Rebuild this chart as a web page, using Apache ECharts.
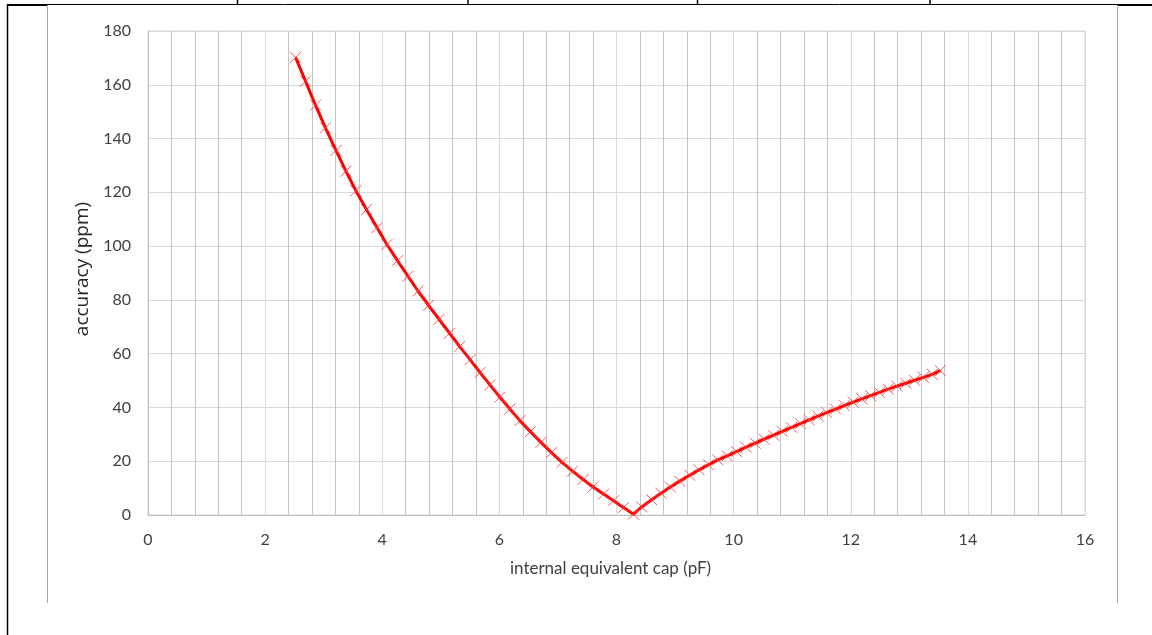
<!DOCTYPE html>
<html>
<head>
<meta charset="utf-8">
<script src="https://cdn.jsdelivr.net/npm/echarts@6/dist/echarts.min.js"></script>
<style>
html,body{margin:0;padding:0;background:#fff;}
#chart{width:1152px;height:635px;}
</style>
</head>
<body>
<div id="chart"></div>
<script>
// Data
const capLeft = [2.52, 2.69, 2.86, 3.03, 3.21, 3.38, 3.55, 3.73, 3.91, 4.08, 4.26, 4.44, 4.61, 4.79, 4.97, 5.15, 5.32, 5.50, 5.67, 5.84, 6.01, 6.18, 6.35, 6.53, 6.71, 6.89, 7.07, 7.25, 7.43, 7.60, 7.78, 7.95, 8.12, 8.29];
const accLeft = [170.2, 161.3, 152.4, 144.0, 135.6, 127.9, 120.6, 113.6, 106.9, 100.6, 94.6, 88.8, 83.3, 78.0, 72.8, 67.6, 62.7, 57.8, 53.0, 48.4, 43.8, 39.4, 35.1, 31.0, 27.0, 23.2, 19.6, 16.3, 13.2, 10.4, 7.8, 5.3, 2.8, 0.3];
const capRight = [8.43, 8.60, 8.76, 8.92, 9.08, 9.25, 9.41, 9.57, 9.73, 9.89, 10.05, 10.21, 10.37, 10.52, 10.68, 10.83, 10.99, 11.14, 11.29, 11.44, 11.59, 11.74, 11.89, 12.04, 12.19, 12.34, 12.49, 12.64, 12.79, 12.94, 13.09, 13.24, 13.39, 13.53];
const accRight = [3.0, 5.7, 8.1, 10.4, 12.6, 14.8, 16.8, 18.7, 20.5, 22.0, 23.6, 25.2, 26.7, 28.2, 29.7, 31.1, 32.6, 34.0, 35.4, 36.8, 38.1, 39.4, 40.7, 42.0, 43.2, 44.4, 45.6, 46.8, 47.9, 49.0, 50.1, 51.2, 52.3, 53.7];
const xName = 'internal equivalent cap (pF)';
const yName = 'accuracy (ppm)';

const caps = capLeft.concat(capRight);
const accs = accLeft.concat(accRight);
const points = caps.map((c, i) => [c, accs[i]]);

const FONT = 'Lato, "Open Sans", sans-serif';
const chart = echarts.init(document.getElementById('chart'), null, {renderer: 'canvas'});
chart.setOption({
  animation: false,
  backgroundColor: '#ffffff',
  grid: {left: 148, right: 67, top: 31, bottom: 120, show: true, borderColor: '#d9d9d9', borderWidth: 1},
  xAxis: {
    type: 'value', min: 0, max: 16, interval: 2,
    name: xName, nameLocation: 'middle', nameGap: 45,
    nameTextStyle: {fontFamily: FONT, fontSize: 17, color: '#404040', padding: [0, 12, 0, 0]},
    axisLine: {show: true, lineStyle: {color: '#bfbfbf', width: 1}},
    axisTick: {show: false},
    axisLabel: {fontFamily: FONT, fontSize: 16, color: '#404040', margin: 17},
    splitLine: {show: true, lineStyle: {color: '#d9d9d9', width: 1}},
    minorTick: {show: false, splitNumber: 5},
    minorSplitLine: {show: true, lineStyle: {color: '#c4c4c4', width: 1}}
  },
  yAxis: {
    type: 'value', min: 0, max: 180, interval: 20,
    name: yName, nameLocation: 'middle', nameGap: 54, nameRotate: 90,
    nameTextStyle: {fontFamily: '"Open Sans", sans-serif', fontSize: 19, color: '#262626', padding: [0, 0, 0, 8]},
    axisLine: {show: true, lineStyle: {color: '#bfbfbf', width: 1}},
    axisTick: {show: false},
    axisLabel: {fontFamily: FONT, fontSize: 16, color: '#404040', margin: 17},
    splitLine: {show: true, lineStyle: {color: '#d9d9d9', width: 1}}
  },
  series: [{
    type: 'line',
    data: points,
    showSymbol: true,
    symbol: 'path://M0,0L10,10M10,0L0,10',
    symbolSize: 11,
    lineStyle: {color: '#ff0000', width: 3},
    itemStyle: {color: 'rgba(255,0,0,0)', borderColor: 'rgba(255,60,60,0.85)', borderWidth: 1},
    z: 3
  }],
  graphic: [
    {type: 'line', shape: {x1: 7.5, y1: 4, x2: 7.5, y2: 635}, style: {stroke: '#000', lineWidth: 1.5}},
    {type: 'line', shape: {x1: 7, y1: 4.5, x2: 1117, y2: 4.5}, style: {stroke: '#000', lineWidth: 1}},
    {type: 'line', shape: {x1: 7, y1: 5, x2: 48, y2: 5}, style: {stroke: '#000', lineWidth: 2}},
    {type: 'line', shape: {x1: 1117, y1: 5, x2: 1152, y2: 5}, style: {stroke: '#000', lineWidth: 2}},
    {type: 'line', shape: {x1: 237.5, y1: 0, x2: 237.5, y2: 4}, style: {stroke: '#000', lineWidth: 1.5}},
    {type: 'line', shape: {x1: 468, y1: 0, x2: 468, y2: 4}, style: {stroke: '#000', lineWidth: 1.5}},
    {type: 'line', shape: {x1: 697.5, y1: 0, x2: 697.5, y2: 4}, style: {stroke: '#000', lineWidth: 1.5}},
    {type: 'line', shape: {x1: 930, y1: 0, x2: 930, y2: 4}, style: {stroke: '#000', lineWidth: 1.5}},
    {type: 'line', shape: {x1: 47.5, y1: 5, x2: 47.5, y2: 603}, style: {stroke: '#a6a6a6', lineWidth: 1}},
    {type: 'line', shape: {x1: 1117.5, y1: 5, x2: 1117.5, y2: 603}, style: {stroke: '#a6a6a6', lineWidth: 1}}
  ]
});
</script>
</body>
</html>
